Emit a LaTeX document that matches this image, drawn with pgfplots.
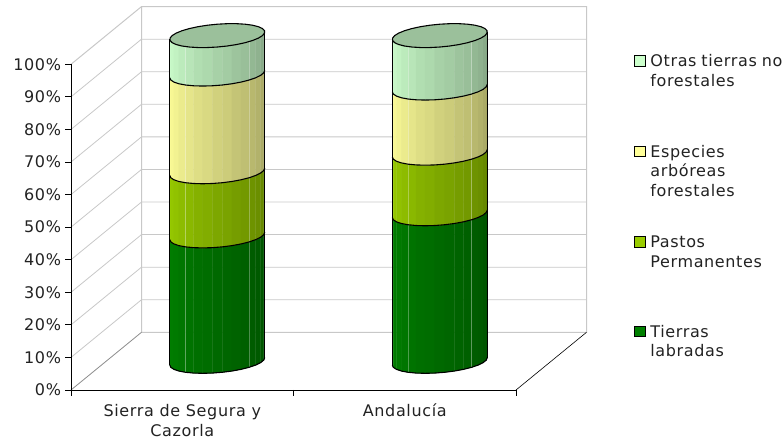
\documentclass[border=0pt]{standalone}
\usepackage{fontspec}
\setmainfont[LetterSpace=4]{DejaVu Sans}
\usepackage{pgfplots}
\pgfplotsset{compat=1.18}
\definecolor{cTierras}{HTML}{008000}
\definecolor{cPastos}{HTML}{99CC00}
\definecolor{cEspecies}{HTML}{FFFF99}
\definecolor{cOtras}{HTML}{CCFFCC}
\definecolor{cTop}{HTML}{9BC09B}
\definecolor{cGrid}{HTML}{C8C8C8}
\definecolor{cText}{HTML}{222222}
\def\rxx{0.203}
\def\ryy{0.208}
% one stacked piece of a cylinder: centre, low value, high value, colour
\newcommand\segment[4]{%
  \pgfplotsforeachungrouped \i in {0,...,14}{%
    \pgfmathsetmacro\xa{#1+\rxx*cos(198+12*\i)}%
    \pgfmathsetmacro\ya{0.497+\ryy*sin(198+12*\i)}%
    \pgfmathsetmacro\xb{#1+\rxx*cos(210+12*\i)}%
    \pgfmathsetmacro\yb{0.497+\ryy*sin(210+12*\i)}%
    \pgfmathtruncatemacro\p{100-35*\i/14}%
    \edef\temp{\noexpand\addplot3[forget plot,fill=#4!\p!black,draw=#4!\p!black,line width=0.3pt] coordinates {(\xa,\ya,#2)(\xb,\yb,#2)(\xb,\yb,#3)(\xa,\ya,#3)} --cycle;}%
    \temp
  }%
  \pgfplotsforeachungrouped \t in {246,330}{%
    \pgfmathsetmacro\xa{#1+\rxx*cos(\t)}%
    \pgfmathsetmacro\ya{0.497+\ryy*sin(\t)}%
    \edef\temp{\noexpand\addplot3[forget plot,white,opacity=0.3,line width=0.6pt,no marks] coordinates {(\xa,\ya,#2)(\xa,\ya,#3)};}%
    \temp
  }%
}
\newcommand\frontarc[2]{%
  \def\pts{}%
  \pgfplotsforeachungrouped \i in {0,...,15}{%
    \pgfmathsetmacro\xa{#1+\rxx*cos(198+12*\i)}%
    \pgfmathsetmacro\ya{0.497+\ryy*sin(198+12*\i)}%
    \edef\pts{\pts (\xa,\ya,#2)}%
  }%
  \edef\temp{\noexpand\addplot3[forget plot,black,line width=1.1pt,no marks] coordinates {\pts};}%
  \temp
}
\newcommand\cyl[5]{% centre, then the four values from the bottom up
  \pgfmathsetmacro\la{#2}%
  \pgfmathsetmacro\lb{#2+#3}%
  \pgfmathsetmacro\lc{#2+#3+#4}%
  \pgfmathsetmacro\ld{#2+#3+#4+#5}%
  \segment{#1}{0}{\la}{cTierras}%
  \segment{#1}{\la}{\lb}{cPastos}%
  \segment{#1}{\lb}{\lc}{cEspecies}%
  \segment{#1}{\lc}{\ld}{cOtras}%
  \def\pts{}%
  \pgfplotsforeachungrouped \i in {0,...,30}{%
    \pgfmathsetmacro\xa{#1+\rxx*cos(12*\i)}%
    \pgfmathsetmacro\ya{0.497+\ryy*sin(12*\i)}%
    \edef\pts{\pts (\xa,\ya,\ld)}%
  }%
  \edef\temp{\noexpand\addplot3[forget plot,fill=cTop,draw=black,line width=1.1pt,no marks] coordinates {\pts};}%
  \temp
  \frontarc{#1}{0}\frontarc{#1}{\la}\frontarc{#1}{\lb}\frontarc{#1}{\lc}%
  \pgfmathsetmacro\xa{#1+\rxx*cos(198)}\pgfmathsetmacro\ya{0.497+\ryy*sin(198)}%
  \pgfmathsetmacro\xb{#1+\rxx*cos(378)}\pgfmathsetmacro\yb{0.497+\ryy*sin(378)}%
  \edef\temp{\noexpand\addplot3[forget plot,black,line width=1.1pt,no marks] coordinates {(\xa,\ya,0)(\xa,\ya,\ld)};
    \noexpand\addplot3[forget plot,black,line width=1.1pt,no marks] coordinates {(\xb,\yb,0)(\xb,\yb,\ld)};}%
  \temp
}
\newcommand\legrow[3]{% colour, y of the first baseline in reference pixels, text
  \draw[black,line width=1pt,fill=#1] (634.8pt,{441pt-(#2pt-0.5pt)}) rectangle (645.4pt,{441pt-(#2pt-11pt)});
  \node[anchor=base west,inner sep=0pt,font=\fontsize{16}{19.4}\selectfont,text=cText] at (650.2pt,{441pt-#2pt}) {\parbox[t]{132pt}{\fontsize{16}{19.4}\selectfont #3}};
}
\begin{document}
\begin{tikzpicture}
\useasboundingbox (0pt,0pt) rectangle (784pt,441pt);
\begin{axis}[
  at={(71pt,51pt)}, anchor=origin,
  x={(222.5pt,0pt)}, y={(70.5pt,57.7pt)}, z={(0pt,3.257pt)},
  xmin=0,xmax=2,ymin=0,ymax=1,zmin=0,zmax=100,
  clip=false,
  axis line style={draw=none},
  ytick=\empty,
  ztick={0,10,...,100},
  zticklabel={\pgfmathprintnumber{\tick}\%},
  xtick={0.5,1.5},
  xticklabels={{Sierra de Segura y\\Cazorla},{Andalucía}},
  major tick length=0pt,
  xticklabel style={anchor=north,align=center,yshift=-10.5pt},
  zticklabel style={anchor=east,xshift=-6.5pt},
  /pgf/number format/assume math mode=true,
  ticklabel style={font=\fontsize{16}{20.5}\selectfont,text=cText},
]
% walls and floor
\pgfplotsinvokeforeach{10,20,...,90}{
  \addplot3[forget plot,cGrid,line width=0.8pt,no marks] coordinates {(0,0,#1)(0,1,#1)(2,1,#1)};
}
\addplot3[forget plot,cGrid,line width=1pt,no marks] coordinates {(0,0,100)(0,1,100)(2,1,100)(2,1,0)(0,1,0)(0,1,100)};
\addplot3[forget plot,black!45,line width=0.8pt,no marks] coordinates {(0,0,0)(0,1,0)};
\addplot3[forget plot,black,line width=0.6pt,no marks] coordinates {(2,0,0)(2,1,0)};
\addplot3[forget plot,black,line width=0.9pt,no marks] coordinates {(0,0,100)(0,0,0)(2,0,0)};
% tick marks
\pgfplotsinvokeforeach{0,10,...,100}{
  \addplot3[forget plot,black,line width=0.8pt,no marks] coordinates {(0,0,#1)(-0.0256,0,#1)};
}
\pgfplotsinvokeforeach{0,1,2}{
  \addplot3[forget plot,black,line width=0.8pt,no marks] coordinates {(#1,0,0)(#1,0,-1.8)};
}
% Tierras, Pastos, Especies, Otras
\cyl{0.5}{38.5}{19.7}{30.0}{11.8}
\cyl{1.5}{45.3}{18.6}{20.0}{16.1}
\end{axis}
\legrow{cOtras}{66.7}{Otras tierras no\\forestales}
\legrow{cEspecies}{157.3}{Especies\\arbóreas\\forestales}
\legrow{cPastos}{248}{Pastos\\Permanentes}
\legrow{cTierras}{337.3}{Tierras\\labradas}
\end{tikzpicture}
\end{document}
